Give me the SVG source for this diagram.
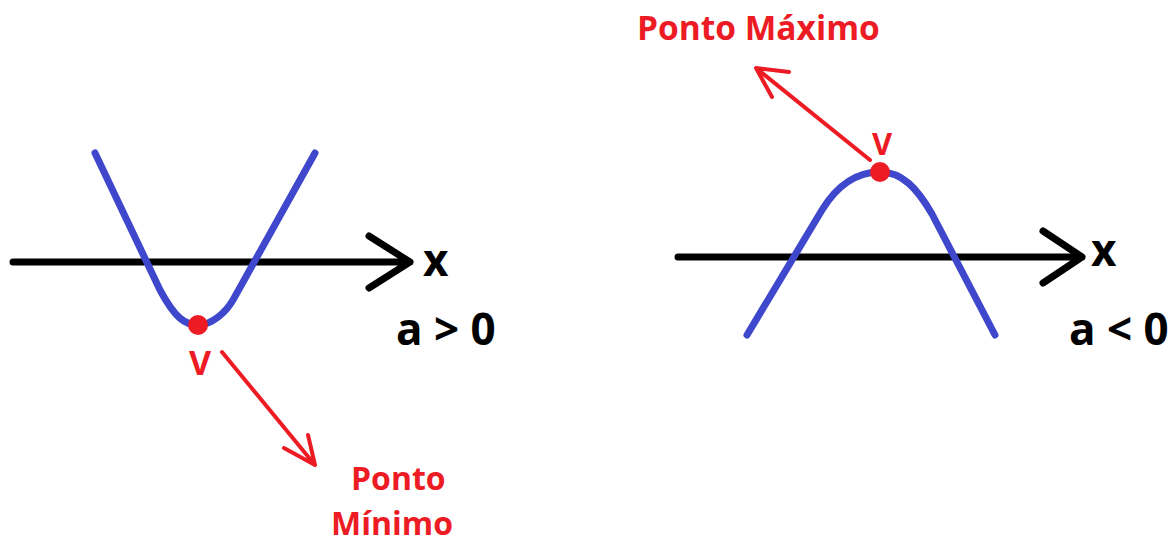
<svg xmlns="http://www.w3.org/2000/svg" width="1173" height="543" viewBox="0 0 1173 543">
<style>
.axis{fill:none;stroke:#000;stroke-width:7;stroke-linecap:round;stroke-linejoin:round}
.curve{fill:none;stroke:#3f48cc;stroke-width:7;stroke-linecap:round;stroke-linejoin:round}
.ptr{fill:none;stroke:#ed1c24;stroke-width:4;stroke-linecap:round;stroke-linejoin:round}
.red{fill:#ed1c24;font-family:"Open Sans","Liberation Sans",sans-serif;font-weight:bold}
.blk{fill:#000;font-family:"Open Sans","Liberation Sans",sans-serif;font-weight:bold}
</style>
<rect width="1173" height="543" fill="#fff"/>
<g id="left-graph">
  <path class="axis" d="M13,262 L410,262 M369,236 L410,262 L369,288"/>
  <path class="curve" d="M95,153 L160,290 C175,318 185,325 198,325 C212,325 226,312 233,300 L315,153"/>
  <circle cx="198" cy="325" r="10" fill="#ed1c24"/>
  <text class="blk" x="423" y="276" font-size="44">x</text>
  <text class="blk" x="396" y="345" font-size="44">a &gt; 0</text>
  <text class="red" x="200" y="375" font-size="34" text-anchor="middle">V</text>
</g>
<g id="right-graph">
  <path class="axis" d="M678,257 L1082,257 M1043,231 L1082,257 L1043,283"/>
  <path class="curve" d="M747,335 L822,210 C838,184 858,172 880,172 C902,172 917,188 932,214 L995,335"/>
  <circle cx="880" cy="172" r="10" fill="#ed1c24"/>
  <text class="blk" x="1091" y="266" font-size="44">x</text>
  <text class="blk" x="1069" y="345" font-size="44">a &lt; 0</text>
  <text class="red" x="882" y="155" font-size="31" text-anchor="middle">V</text>
</g>
<g id="label-min">
  <text class="red" x="351" y="490" font-size="32">Ponto</text>
  <text class="red" x="331" y="535" font-size="32">Mínimo</text>
</g>
<g id="label-max">
  <text class="red" x="637" y="40" font-size="33.5">Ponto Máximo</text>
</g>
<g id="connectors">
  <path class="ptr" d="M222,352 L315,465 M284,448 L315,465 L308,435"/>
  <path class="ptr" d="M870,160 L756,68 M789,72 L756,68 L772,97"/>
</g>
</svg>
